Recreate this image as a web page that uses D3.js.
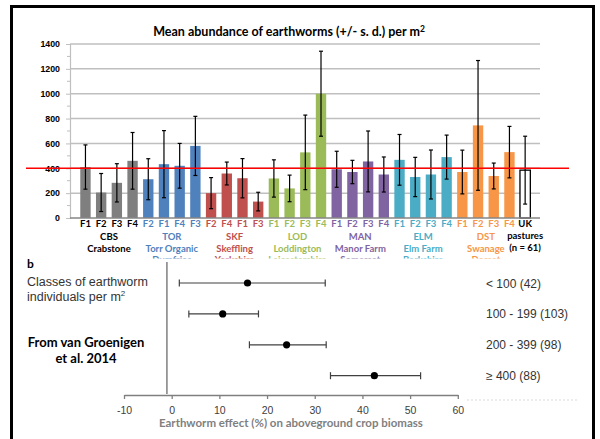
<!DOCTYPE html>
<html>
<head>
<meta charset="utf-8">
<script src="https://cdn.jsdelivr.net/npm/d3@7"></script>
<style>
    body { margin: 0; background: #fff; }
    svg { display: block; }
</style>
</head>
<body>
<div id="chart"></div>
<script>
// ---- data: panel a (earthworm abundance per m2) ----
const siteCodes = ["CBS", "TOR", "SKF", "LOD", "MAN", "ELM", "DST"];
const siteNames = ["Crabstone", "Torr Organic", "Skeffling", "Loddington", "Manor Farm", "Elm Farm", "Swanage"];
const siteCounties = ["", "Dumfries", "Yorkshire", "Leicestershire", "Somerset", "Berkshire", "Dorset"];
const siteColors = ["#7f7f7f", "#4f81bd", "#c0504d", "#9bbb59", "#8064a2", "#4bacc6", "#f79646"];
const labelColors = ["#000000", "#4f81bd", "#c0504d", "#9bbb59", "#8064a2", "#4bacc6", "#f79646"];
const fieldLabels = [
    ["F1", "F2", "F3", "F4"],
    ["F2", "F1", "F4", "F3"],
    ["F2", "F4", "F1", "F3"],
    ["F1", "F2", "F3", "F4"],
    ["F1", "F2", "F3", "F4"],
    ["F1", "F2", "F3", "F4"],
    ["F1", "F2", "F3", "F4"]
];
const meanAbundance = [
    [410, 205, 283, 460],
    [312, 433, 420, 580],
    [200, 358, 320, 132],
    [318, 238, 528, 1000],
    [392, 370, 455, 350],
    [468, 330, 350, 490],
    [370, 745, 338, 530]
];
const sdAbundance = [
    [178, 153, 154, 228],
    [165, 270, 180, 238],
    [125, 92, 158, 75],
    [150, 107, 300, 342],
    [145, 94, 245, 141],
    [204, 158, 197, 177],
    [176, 522, 104, 207]
];
const ukLabel = ["UK", "pastures", "(n = 61)"];
const ukMean = 385;
const ukSd = 273;
const abundanceTicks = [0, 200, 400, 600, 800, 1000, 1200, 1400];
const thresholdValue = 400;

// ---- data: panel b (van Groenigen et al. 2014) ----
const classLabels = ["< 100 (42)", "100 - 199 (103)", "200 - 399 (98)", "\u2265 400 (88)"];
const effectMean = [15.9, 10.7, 24.1, 42.5];
const effectLow = [1.6, 3.6, 16.3, 33.3];
const effectHigh = [32.2, 18.2, 32.4, 52.2];
const effectTicks = [-10, 0, 10, 20, 30, 40, 50, 60];
const refLineValue = -1;

// flatten the bars so every one is drawn from the same scale
const bars = [];
siteCodes.forEach((code, g) => {
    fieldLabels[g].forEach((f, i) => {
        bars.push({ key: code + f, field: f, group: g, mean: meanAbundance[g][i], sd: sdAbundance[g][i] });
    });
});
bars.push({ key: "UK", field: "UK", group: -1, mean: ukMean, sd: ukSd });

const svg = d3.select("#chart").append("svg")
    .attr("width", 600)
    .attr("height", 439);

svg.append("rect").attr("width", 600).attr("height", 439).attr("fill", "#fff");

const calibri = "Lato, 'Open Sans', sans-serif";
const arial = "'Liberation Sans', Arial, sans-serif";

// ================= panel a =================
const y = d3.scaleLinear().domain([0, 1400]).range([218, 44]);
const x = d3.scaleBand()
    .domain(bars.map(d => d.key))
    .range([77.6, 533])
    .paddingInner(0.34)
    .paddingOuter(0.17);

// title
const title = svg.append("text")
    .attr("x", 289).attr("y", 36)
    .attr("text-anchor", "middle")
    .style("font-family", calibri).style("font-weight", "bold").style("font-size", "12.5px")
    .text("Mean abundance of earthworms (+/- s. d.) per m");
title.append("tspan").attr("dy", -4).style("font-size", "8.5px").text("2");

// gridlines
svg.append("g").selectAll("line")
    .data(abundanceTicks.filter(t => t > 0))
    .enter().append("line")
    .attr("x1", 70).attr("x2", 540)
    .attr("y1", d => y(d)).attr("y2", d => y(d))
    .attr("stroke", "#bfbfbf").attr("stroke-width", 1.5);

// y axis
const yAxis = d3.axisLeft(y).tickValues(abundanceTicks).tickFormat(d => String(d)).tickSize(4).tickPadding(6);
const yAxisG = svg.append("g")
    .attr("transform", "translate(70,0)")
    .call(yAxis);
yAxisG.select(".domain").attr("stroke", "#bfbfbf").attr("stroke-width", 1.2);
yAxisG.selectAll(".tick line").attr("stroke", "#bfbfbf");
yAxisG.selectAll("text")
    .style("font-family", arial).style("font-weight", "bold").style("font-size", "8.8px")
    .attr("fill", "#000");
// minor ticks
svg.append("g").selectAll("line")
    .data(d3.range(100, 1400, 200))
    .enter().append("line")
    .attr("x1", 67).attr("x2", 70)
    .attr("y1", d => y(d)).attr("y2", d => y(d))
    .attr("stroke", "#bfbfbf");

// bars
svg.append("g").selectAll("rect")
    .data(bars)
    .enter().append("rect")
    .attr("x", d => x(d.key))
    .attr("y", d => y(d.mean))
    .attr("width", x.bandwidth())
    .attr("height", d => y(0) - y(d.mean))
    .attr("fill", d => d.group < 0 ? "#fff" : siteColors[d.group])
    .attr("stroke", d => d.group < 0 ? "#000" : "none")
    .attr("stroke-width", 1.3);

// baseline
svg.append("line")
    .attr("x1", 70).attr("x2", 540)
    .attr("y1", y(0)).attr("y2", y(0))
    .attr("stroke", "#868686").attr("stroke-width", 1.3);

// error bars
const err = svg.append("g").attr("stroke", "#000").attr("stroke-width", 1.2);
bars.forEach(d => {
    const cx = x(d.key) + x.bandwidth() / 2;
    const top = y(d.mean + d.sd);
    const bot = y(Math.max(0, d.mean - d.sd));
    err.append("line").attr("x1", cx).attr("x2", cx).attr("y1", top).attr("y2", bot);
    err.append("line").attr("x1", cx - 2).attr("x2", cx + 2).attr("y1", top).attr("y2", top);
    err.append("line").attr("x1", cx - 2).attr("x2", cx + 2).attr("y1", bot).attr("y2", bot);
});

// 400 threshold line
svg.append("line")
    .attr("x1", 26).attr("x2", 569)
    .attr("y1", y(thresholdValue)).attr("y2", y(thresholdValue))
    .attr("stroke", "#ff0000").attr("stroke-width", 1.5);

// field labels
svg.append("g").selectAll("text")
    .data(bars.filter(d => d.group >= 0))
    .enter().append("text")
    .attr("x", d => x(d.key) + x.bandwidth() / 2)
    .attr("y", 227)
    .attr("text-anchor", "middle")
    .style("font-family", calibri).style("font-weight", "bold").style("font-size", "9.5px")
    .attr("fill", d => labelColors[d.group])
    .text(d => d.field);

// site labels (3 lines, centred under the 4 bars)
siteCodes.forEach((code, g) => {
    const keys = fieldLabels[g].map(f => code + f);
    const cx = (x(keys[0]) + x(keys[3]) + x.bandwidth()) / 2;
    [code, siteNames[g], siteCounties[g]].forEach((t, i) => {
        svg.append("text")
            .attr("x", cx).attr("y", 240 + i * 11.5)
            .attr("text-anchor", "middle")
            .style("font-family", calibri).style("font-weight", "bold").style("font-size", "9.5px")
            .attr("fill", labelColors[g])
            .text(t);
    });
});
ukLabel.forEach((t, i) => {
    svg.append("text")
        .attr("x", x("UK") + x.bandwidth() / 2)
        .attr("y", 227 + i * 12)
        .attr("text-anchor", "middle")
        .style("font-family", calibri).style("font-weight", "bold").style("font-size", "9.5px")
        .attr("fill", "#000")
        .text(t);
});

// ================= panel b =================
// panel b sits on top of the cut-off county names
svg.append("rect").attr("x", 13).attr("y", 258.5).attr("width", 578).attr("height", 181).attr("fill", "#fff");

const xf = d3.scaleLinear().domain([-10, 60]).range([124, 457.8]);
const yf = d3.scalePoint().domain(classLabels).range([283, 375.7]);

svg.append("text")
    .attr("x", 27).attr("y", 267.5)
    .style("font-family", calibri).style("font-weight", "bold").style("font-size", "12px")
    .text("b");

svg.append("text")
    .attr("x", 27).attr("y", 286)
    .style("font-family", arial).style("font-size", "12.5px").attr("fill", "#333")
    .text("Classes of earthworm");
const ind = svg.append("text")
    .attr("x", 27).attr("y", 301)
    .style("font-family", arial).style("font-size", "12.5px").attr("fill", "#333")
    .text("individuals per m");
ind.append("tspan").attr("dy", -5).style("font-size", "8px").text("2");

svg.append("text")
    .attr("x", 86).attr("y", 346.5)
    .attr("text-anchor", "middle")
    .style("font-family", calibri).style("font-weight", "bold").style("font-size", "13px")
    .text("From van Groenigen");
svg.append("text")
    .attr("x", 86).attr("y", 363)
    .attr("text-anchor", "middle")
    .style("font-family", calibri).style("font-weight", "bold").style("font-size", "13px")
    .text("et al. 2014");

// zero reference line
svg.append("line")
    .attr("x1", xf(refLineValue)).attr("x2", xf(refLineValue))
    .attr("y1", 262).attr("y2", 394)
    .attr("stroke", "#7f7f7f").attr("stroke-width", 1.5);

// x axis
const xfAxis = d3.axisBottom(xf).tickValues(effectTicks).tickFormat(d => String(d))
    .tickSize(4).tickPadding(8).tickSizeOuter(0);
const xfG = svg.append("g").attr("transform", "translate(0,395)").call(xfAxis);
xfG.select(".domain").attr("stroke", "#7f7f7f").attr("stroke-width", 1.3);
xfG.selectAll(".tick line").attr("stroke", "#7f7f7f").attr("stroke-width", 1.3);
xfG.selectAll("text")
    .style("font-family", arial).style("font-size", "10.5px").attr("fill", "#404040");

svg.append("text")
    .attr("x", xf(25)).attr("y", 426.5)
    .attr("text-anchor", "middle")
    .style("font-family", calibri).style("font-weight", "bold").style("font-size", "11.5px")
    .attr("fill", "#7f7f7f")
    .text("Earthworm effect (%) on aboveground crop biomass");

// confidence intervals and means
const ci = svg.append("g").attr("stroke", "#404040").attr("stroke-width", 1.2);
classLabels.forEach((c, i) => {
    const cy = yf(c);
    ci.append("line").attr("x1", xf(effectLow[i])).attr("x2", xf(effectHigh[i])).attr("y1", cy).attr("y2", cy);
    ci.append("line").attr("x1", xf(effectLow[i])).attr("x2", xf(effectLow[i])).attr("y1", cy - 3.5).attr("y2", cy + 3.5);
    ci.append("line").attr("x1", xf(effectHigh[i])).attr("x2", xf(effectHigh[i])).attr("y1", cy - 3.5).attr("y2", cy + 3.5);
});
svg.append("g").selectAll("circle")
    .data(classLabels)
    .enter().append("circle")
    .attr("cx", (c, i) => xf(effectMean[i]))
    .attr("cy", c => yf(c))
    .attr("r", 3.6)
    .attr("fill", "#000");

// class labels on the right
svg.append("g").selectAll("text")
    .data(classLabels)
    .enter().append("text")
    .attr("x", 486)
    .attr("y", c => yf(c) + 4.5)
    .style("font-family", arial).style("font-size", "12px").attr("fill", "#333")
    .text(c => c);

svg.append("line")
    .attr("x1", 467).attr("x2", 578)
    .attr("y1", 400).attr("y2", 400)
    .attr("stroke", "#d9d9d9").attr("stroke-dasharray", "2,2");

// outer frame
svg.append("rect")
    .attr("x", 11.5).attr("y", 6.5)
    .attr("width", 582).attr("height", 440)
    .attr("fill", "none").attr("stroke", "#000").attr("stroke-width", 3);
</script>
</body>
</html>
